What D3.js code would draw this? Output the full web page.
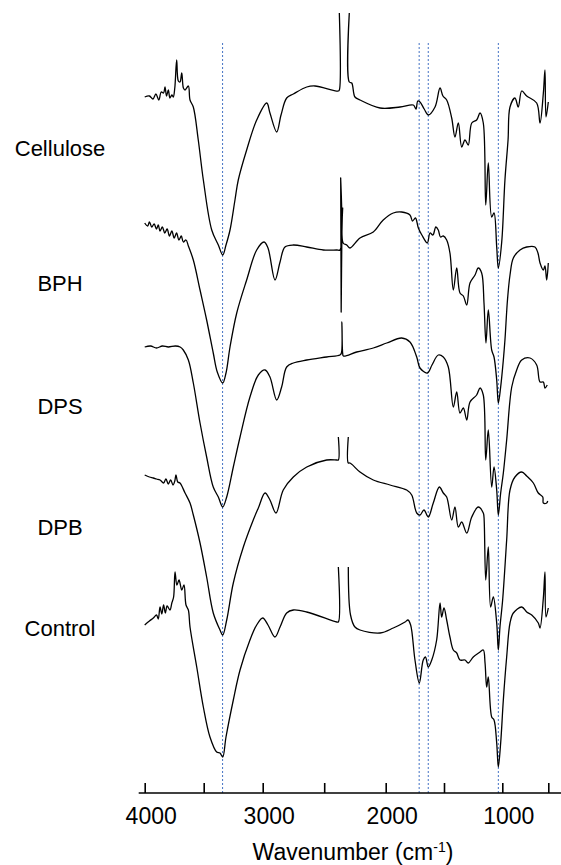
<!DOCTYPE html>
<html lang="en">
<head>
<meta charset="UTF-8">
<title>FTIR spectra</title>
<script src="https://cdn.jsdelivr.net/npm/d3@7/dist/d3.min.js"></script>
<style>
  body { margin: 0; background: #fff; }
  svg text { font-family: Arial, "Liberation Sans", sans-serif; fill: #000; }
  .name { font-size: 22px; }
  .tick text { font-size: 23px; }
  .title { font-size: 23px; }
</style>
</head>
<body>
<svg id="main" width="561" height="865"></svg>
<script>
// sample names, top to bottom
const names = ['Cellulose', 'BPH', 'DPS', 'DPB', 'Control'];
// x axis ticks (cm-1)
const tickValues = [4000, 3500, 3000, 2500, 2000, 1500, 1000, 600];
const tickLabels = [4000, 3000, 2000, 1000];
// marked bands (cm-1)
const bands = [3340, 1713, 1635, 1034];

// spectra: [wavenumber, offset transmittance (a.u.)], null = break
const cellulose = [[4000,696],[3960,697],[3930,694],[3905,699],[3880,693],[3860,701],[3840,700],[3828,706],[3815,697],[3800,703],[3786,695],[3770,698],[3758,696],[3745,705],[3729,733],[3715,712],[3701,711],[3686,720],[3672,705],[3658,703],[3630,707],[3616,693],[3588,686],[3546,653],[3503,613],[3432,563],[3376,548],[3339,538],[3311,548],[3277,563],[3235,593],[3207,613],[3136,643],[3051,673],[2967,690],[2941,680],[2886,661],[2851,678],[2805,695],[2751,699],[2642,706],[2575,707],[2385,702],[2377,703],[2377,780],[2336,null],[2296,780],[2296,711],[2276,710],[2250,696],[2209,693],[2046,685],[1877,686],[1763,688],[1740,684],[1725,692],[1706,691],[1670,684],[1635,678],[1577,686],[1534,705],[1509,697],[1477,693],[1434,675],[1406,656],[1377,670],[1348,646],[1320,653],[1292,648],[1262,670],[1220,673],[1191,680],[1163,670],[1142,588],[1120,630],[1091,576],[1071,580],[1048,546],[1034,525],[1005,551],[977,613],[950,653],[933,686],[890,695],[861,686],[831,702],[788,697],[701,690],[672,670],[643,700],[629,723],[620,676],[600,691]];

const bph = [[4000,570],[3975,567],[3960,571],[3940,566],[3920,569],[3900,564],[3885,568],[3870,562],[3850,566],[3830,560],[3810,564],[3790,557],[3770,562],[3750,555],[3730,560],[3710,553],[3690,557],[3673,551],[3650,553],[3630,547],[3588,533],[3531,503],[3475,473],[3419,440],[3385,421],[3339,410],[3311,420],[3277,446],[3220,480],[3136,513],[3051,543],[2989,551],[2957,545],[2900,513],[2859,531],[2819,546],[2751,548],[2642,546],[2507,543],[2398,543],[2372,543],[2366,615],[2362,481],[2356,560],[2350,585],[2346,550],[2317,548],[2290,545],[2209,555],[2101,561],[2020,573],[1935,580],[1863,581],[1792,578],[1770,572],[1745,575],[1720,565],[1690,558],[1643,550],[1620,560],[1595,558],[1570,566],[1549,563],[1530,556],[1506,557],[1477,553],[1449,540],[1420,503],[1391,525],[1363,500],[1334,497],[1305,488],[1277,510],[1234,518],[1206,525],[1177,520],[1157,490],[1140,450],[1120,483],[1091,443],[1071,436],[1048,413],[1034,390],[1014,406],[991,433],[977,453],[955,493],[933,518],[904,535],[846,543],[788,546],[716,546],[690,540],[672,530],[643,523],[629,527],[614,513],[600,530]];

const dps = [[4000,446],[3950,447],[3900,445],[3850,447],[3800,446],[3740,447],[3700,446],[3673,443],[3630,433],[3588,410],[3531,370],[3475,336],[3419,306],[3376,296],[3339,286],[3305,296],[3249,326],[3192,356],[3108,396],[3037,418],[2981,423],[2941,416],[2886,393],[2846,406],[2805,426],[2751,430],[2642,433],[2480,436],[2372,438],[2360,440],[2356,471],[2350,440],[2344,437],[2236,441],[2101,445],[1991,450],[1863,455],[1792,451],[1734,436],[1706,425],[1643,420],[1603,428],[1549,438],[1506,436],[1463,426],[1420,386],[1391,401],[1363,380],[1334,385],[1305,373],[1277,391],[1220,398],[1191,405],[1163,398],[1142,333],[1120,363],[1091,306],[1071,326],[1048,303],[1034,278],[1014,300],[991,320],[962,353],[918,406],[875,423],[831,433],[759,435],[701,428],[672,411],[643,411],[629,405],[609,408]];

const dpb = [[4000,318],[3960,316],[3927,315],[3900,314],[3870,313],[3840,310],[3820,314],[3800,309],[3780,313],[3760,308],[3745,312],[3735,318],[3720,311],[3701,310],[3658,300],[3616,290],[3588,278],[3531,250],[3475,216],[3419,180],[3362,163],[3339,158],[3305,173],[3249,210],[3164,246],[3080,273],[3037,285],[2981,300],[2941,293],[2892,280],[2833,303],[2751,316],[2642,326],[2480,333],[2398,333],[2385,333],[2385,356],[2345,null],[2304,356],[2304,330],[2290,330],[2209,321],[2101,313],[1963,308],[1820,303],[1777,298],[1734,280],[1706,278],[1672,283],[1635,276],[1592,290],[1540,306],[1506,300],[1477,296],[1434,273],[1406,286],[1377,266],[1348,271],[1305,260],[1262,276],[1206,286],[1163,280],[1157,276],[1142,213],[1120,246],[1100,186],[1077,196],[1048,170],[1034,143],[1020,166],[997,193],[962,253],[933,303],[890,316],[831,321],[788,317],[730,310],[687,300],[648,296],[643,290],[614,290],[605,292]];

const control = [[4000,168],[3960,172],[3927,175],[3900,178],[3885,174],[3870,186],[3855,179],[3840,188],[3825,180],[3810,187],[3786,183],[3770,190],[3755,196],[3743,221],[3727,208],[3709,213],[3686,203],[3667,208],[3650,188],[3630,183],[3616,166],[3559,126],[3503,86],[3447,56],[3390,41],[3362,40],[3339,36],[3311,56],[3249,93],[3192,123],[3108,153],[3051,168],[3000,175],[2957,168],[2900,156],[2859,166],[2805,180],[2751,183],[2642,181],[2398,171],[2385,171],[2385,226],[2345,null],[2304,226],[2286,178],[2250,166],[2209,163],[2046,160],[1935,165],[1834,171],[1809,173],[1786,168],[1749,133],[1712,110],[1678,133],[1659,136],[1635,126],[1605,133],[1563,153],[1534,190],[1520,176],[1500,185],[1477,173],[1449,156],[1420,143],[1391,140],[1363,133],[1320,133],[1292,130],[1249,136],[1191,141],[1163,143],[1148,130],[1134,106],[1120,116],[1091,76],[1071,73],[1048,50],[1034,26],[1014,50],[991,93],[962,136],[933,170],[904,180],[831,186],[788,181],[744,178],[687,170],[672,165],[643,195],[629,221],[620,176],[600,185]];

const spectra = [cellulose, bph, dps, dpb, control];

// layout
const svg = d3.select('svg#main');
const width = 561, axisY = 793;
const nameX = 60;
const nameY = [156, 291, 414, 535, 636];
const bandTop = 751;

// x axis was drawn a bit uneven in the source, so use a piecewise scale
let x = d3.scaleLinear()
    .domain([4000, 3000, 2000, 1000, 600])
    .range([144.7, 262.7, 385.7, 502.3, 548.3]);
let y = d3.scaleLinear().domain([0, 800]).range([axisY, axisY - 800]);

// marked bands
svg.append('g').selectAll('line')
    .data(bands)
    .enter()
    .append('line')
    .attr('x1', d => x(d)).attr('x2', d => x(d))
    .attr('y1', y(0)).attr('y2', y(bandTop))
    .attr('stroke', '#4472c4')
    .attr('stroke-width', 1)
    .attr('stroke-dasharray', '2,2');

// spectra
let line = d3.line()
    .defined(d => d[1] != null)
    .x(d => x(d[0]))
    .y(d => y(d[1]))
    .curve(d3.curveCatmullRom.alpha(0.5));

svg.append('g').selectAll('path')
    .data(spectra)
    .enter()
    .append('path')
    .attr('d', line)
    .attr('fill', 'none')
    .attr('stroke', '#000')
    .attr('stroke-width', 1.3)
    .attr('stroke-linejoin', 'round');

// sample names
svg.append('g').selectAll('text')
    .data(names)
    .enter()
    .append('text')
    .attr('class', 'name')
    .attr('x', nameX)
    .attr('y', (d, i) => nameY[i])
    .attr('text-anchor', 'middle')
    .text(d => d);

// x axis
let axis = d3.axisBottom(x)
    .tickValues(tickValues)
    .tickSizeInner(-10)
    .tickSizeOuter(0)
    .tickPadding(15)
    .tickFormat(d => tickLabels.includes(d) ? d : '');

let gx = svg.append('g')
    .attr('transform', `translate(0,${axisY})`)
    .call(axis);
gx.select('.domain').remove();
gx.selectAll('.tick line').attr('stroke', '#000').attr('stroke-width', 1.6);
gx.selectAll('.tick text').attr('dx', 6).attr('font-family', null).attr('font-size', null);

gx.append('line')
    .attr('x1', x(4000) - 6).attr('x2', width)
    .attr('y1', 0).attr('y2', 0)
    .attr('stroke', '#000')
    .attr('stroke-width', 1.6);

// axis title
let title = svg.append('text')
    .attr('class', 'title')
    .attr('x', 353)
    .attr('y', 860)
    .attr('text-anchor', 'middle');
title.append('tspan').text('Wavenumber (cm');
title.append('tspan').attr('font-size', '14px').attr('dy', -8).text('-1');
title.append('tspan').attr('dy', 8).text(')');
</script>
</body>
</html>
